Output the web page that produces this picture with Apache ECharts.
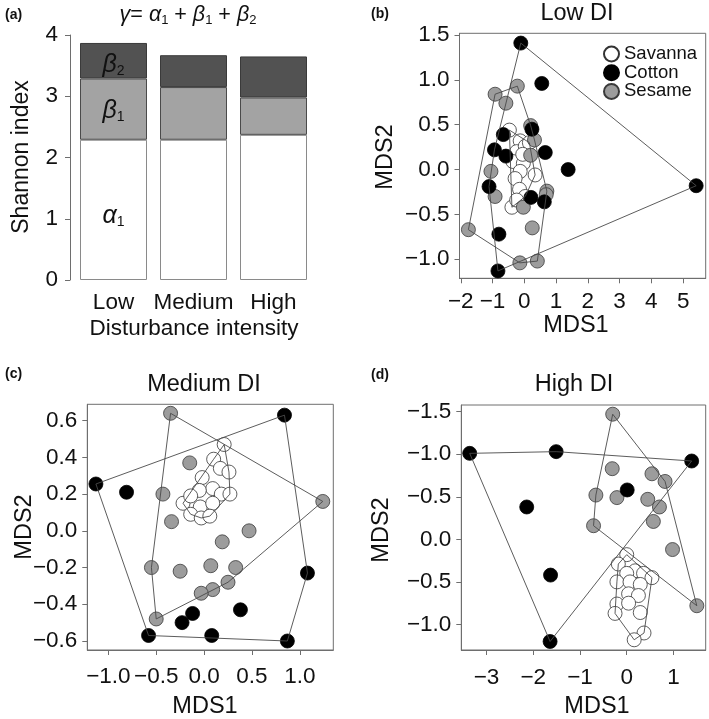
<!DOCTYPE html>
<html><head><meta charset="utf-8">
<script src="https://cdn.jsdelivr.net/npm/echarts@6/dist/echarts.min.js"></script>
<style>html,body{margin:0;padding:0;background:#fff}#c{width:709px;height:719px}</style>
</head><body><div id="c"></div>
<script>
// ---------- DATA ----------
const categories = ['Low', 'Medium', 'High'];
const alpha1 = [2.29, 2.29, 2.37];
const beta1 = [1.00, 0.86, 0.61];
const beta2 = [0.58, 0.52, 0.67];
const aTicks = [0, 1, 2, 3, 4];

// (b) Low DI
const lowSavanna = [[-0.47,0.44],[-0.13,0.32],[-0.24,0.20],[0.03,0.26],[0.16,0.30],[-0.36,0.09],[-0.03,0.07],[-0.13,-0.02],[0.34,-0.06],[-0.29,-0.10],[-0.15,-0.22],[0.03,-0.30],[-0.39,-0.42],[-0.24,-0.34],[-0.05,0.17]];
const lowCotton = [[-0.11,1.41],[0.55,0.96],[5.41,-0.18],[1.38,0.00],[0.66,0.19],[0.24,0.45],[-0.66,0.39],[-0.94,0.22],[-0.58,0.15],[-1.11,-0.19],[0.21,-0.31],[0.63,-0.36],[-0.80,-0.72],[-0.83,-1.13]];
const lowSesame = [[-0.92,0.84],[-0.22,0.93],[-0.58,0.74],[0.20,0.49],[0.32,0.33],[0.20,0.16],[-1.05,-0.02],[-0.92,-0.30],[0.71,-0.24],[0.69,-0.28],[-0.03,-0.42],[0.25,-0.65],[-1.76,-0.67],[-0.14,-1.04],[0.41,-1.02]];
const bTickX = [-2,-1,0,1,2,3,4,5];
const bTickXLabels = ['−2','−1','0','1','2','3','4','5'];
const bTickY = [-1.0,-0.5,0.0,0.5,1.0,1.5];
const bTickYLabels = ['−1.0','−0.5','0.0','0.5','1.0','1.5'];
const legendNames = ['Savanna', 'Cotton', 'Sesame'];

// (c) Medium DI
const medSavanna = [[0.21,0.47],[0.10,0.39],[0.17,0.34],[0.26,0.32],[-0.02,0.29],[0.09,0.23],[-0.05,0.22],[0.18,0.20],[0.27,0.20],[-0.22,0.15],[-0.14,0.19],[-0.04,0.13],[0.09,0.15],[-0.14,0.09],[-0.03,0.07],[0.06,0.08]];
const medCotton = [[-1.13,0.255],[-0.81,0.21],[0.84,0.63],[1.08,-0.23],[-0.58,-0.57],[-0.23,-0.50],[-0.12,-0.45],[0.38,-0.43],[0.08,-0.57],[0.87,-0.60]];
const medSesame = [[-0.35,0.64],[-0.15,0.37],[-0.43,0.20],[-0.34,0.05],[1.24,0.16],[0.47,0.00],[0.19,-0.06],[-0.55,-0.20],[-0.25,-0.22],[0.07,-0.19],[0.33,-0.20],[0.25,-0.28],[0.09,-0.32],[-0.03,-0.34],[-0.50,-0.48]];
const cTickX = [-1.0,-0.5,0.0,0.5,1.0];
const cTickXLabels = ['−1.0','−0.5','0.0','0.5','1.0'];
const cTickY = [-0.6,-0.4,-0.2,0.0,0.2,0.4,0.6];
const cTickYLabels = ['−0.6','−0.4','−0.2','0.0','0.2','0.4','0.6'];

// (d) High DI (vertical axis drawn reversed)
const highSavanna = [[0.00,0.18],[-0.18,0.29],[0.18,0.37],[0.36,0.40],[0.54,0.45],[0.00,0.40],[-0.21,0.50],[0.07,0.50],[0.29,0.53],[0.04,0.64],[0.25,0.66],[-0.21,0.76],[0.04,0.75],[-0.25,0.87],[0.29,0.86],[0.37,1.10],[0.16,1.18]];
const highCotton = [[-3.36,-1.01],[-1.51,-1.03],[1.39,-0.92],[0.01,-0.58],[-2.14,-0.38],[-1.63,0.42],[-1.64,1.20]];
const highSesame = [[-0.30,-1.47],[-0.31,-0.83],[0.54,-0.77],[0.82,-0.68],[-0.66,-0.52],[-0.21,-0.49],[0.45,-0.47],[0.70,-0.38],[0.57,-0.21],[-0.71,-0.16],[0.98,0.12],[1.50,0.78]];
const dTickX = [-3,-2,-1,0,1];
const dTickXLabels = ['−3','−2','−1','0','1'];
const dTickY = [-1.5,-1.0,-0.5,0.0,0.5,1.0];
const dTickYLabels = ['−1.5','−1.0','−0.5','0.0','−0.5','−1.0'];

// ---------- HELPERS ----------
function hull(pts) {
  const p = pts.slice().sort((a,b)=>a[0]-b[0]||a[1]-b[1]);
  const cross=(o,a,b)=>(a[0]-o[0])*(b[1]-o[1])-(a[1]-o[1])*(b[0]-o[0]);
  const lower=[];for(const q of p){while(lower.length>=2&&cross(lower[lower.length-2],lower[lower.length-1],q)<=0)lower.pop();lower.push(q);}
  const upper=[];for(let i=p.length-1;i>=0;i--){const q=p[i];while(upper.length>=2&&cross(upper[upper.length-2],upper[upper.length-1],q)<=0)upper.pop();upper.push(q);}
  upper.pop();lower.pop();
  const h=lower.concat(upper);h.push(h[0]);return h;
}
function labeler(vals, labs){return v=>{for(let i=0;i<vals.length;i++){if(Math.abs(vals[i]-v)<1e-6)return labs[i];}return '';};}

const FONT = "'Liberation Sans', Arial, sans-serif";
const AXC = '#6e6e6e';
const TXT = '#111111';
const SYM = 14;
const TF = 22.5;

function valAxis(gi, min, max, ticks, labs, margin, extra) {
  return Object.assign({
    type: 'value', gridIndex: gi, min: min, max: max,
    splitLine: {show: false},
    axisLine: {show: true, onZero: false, lineStyle: {color: AXC, width: 1}},
    axisTick: {show: true, inside: false, length: 5, lineStyle: {color: AXC}, customValues: ticks},
    axisLabel: {show: true, customValues: ticks, formatter: labeler(ticks, labs), fontSize: TF, fontFamily: FONT, color: TXT, margin: margin}
  }, extra || {});
}

const savStyle = {color: '#ffffff', borderColor: '#333', borderWidth: 0.8, opacity: 1};
const cotStyle = {color: '#000000', borderColor: '#000', borderWidth: 0.8, opacity: 1};
const sesStyle = {color: '#9c9c9c', borderColor: '#3a3a3a', borderWidth: 0.8, opacity: 1};

function scatterSet(gi, sav, cot, ses) {
  const s = [];
  s.push({name: 'Savanna', type: 'scatter', xAxisIndex: gi, yAxisIndex: gi, data: sav, symbol: 'circle', symbolSize: SYM, itemStyle: savStyle, z: 2, emphasis: {disabled: true}});
  s.push({name: 'Sesame', type: 'scatter', xAxisIndex: gi, yAxisIndex: gi, data: ses, symbol: 'circle', symbolSize: SYM, itemStyle: sesStyle, z: 2, emphasis: {disabled: true}});
  s.push({name: 'Cotton', type: 'scatter', xAxisIndex: gi, yAxisIndex: gi, data: cot, symbol: 'circle', symbolSize: SYM, itemStyle: cotStyle, z: 2, emphasis: {disabled: true}});
  [sav, cot, ses].forEach(g => {
    s.push({type: 'line', xAxisIndex: gi, yAxisIndex: gi, data: hull(g), showSymbol: false, symbol: 'none', lineStyle: {color: '#4a4a4a', width: 0.9}, z: 4, silent: true, animation: false});
  });
  return s;
}

const chart = echarts.init(document.getElementById('c'), null, {renderer: 'canvas'});

const barLabel = (txt, sub, dy) => ({
  show: true, position: 'inside', offset: [0, dy], formatter: '{i|' + txt + '}{s|' + sub + '}',
  rich: {i: {fontSize: 25, fontStyle: 'italic', fontFamily: FONT, color: TXT, lineHeight: 26},
         s: {fontSize: 14, fontFamily: FONT, color: TXT, lineHeight: 9, verticalAlign: 'bottom'}}
});

function barData(vals, lab) {
  return vals.map((v, i) => i === 0 ? {value: v, label: lab} : v);
}

const legends = legendNames.map((n, i) => ({
  show: true, orient: 'vertical', left: 598, top: 39.5 + i * 18.7, itemWidth: 15, itemHeight: 15,
  icon: 'circle', data: [n], selectedMode: false,
  textStyle: {fontSize: 18.5, fontFamily: FONT, color: TXT}
}));

const option = {
  animation: false,
  backgroundColor: '#ffffff',
  textStyle: {fontFamily: FONT},
  grid: [
    {left: 73.5, top: 35, width: 240, height: 245},
    {left: 459.5, top: 33.3, width: 246.2, height: 245, show: true, borderColor: AXC, borderWidth: 1, backgroundColor: 'transparent'},
    {left: 87.3, top: 404.3, width: 246, height: 245.7, show: true, borderColor: AXC, borderWidth: 1, backgroundColor: 'transparent'},
    {left: 461.3, top: 405, width: 244.4, height: 245, show: true, borderColor: AXC, borderWidth: 1, backgroundColor: 'transparent'}
  ],
  xAxis: [
    {type: 'category', gridIndex: 0, data: categories, axisLine: {show: false}, axisTick: {show: false},
     axisLabel: {interval: 0, fontSize: 22.5, fontFamily: FONT, color: TXT, margin: 11}},
    valAxis(1, -2.04, 5.71, bTickX, bTickXLabels, 12),
    valAxis(2, -1.22, 1.35, cTickX, cTickXLabels, 15),
    valAxis(3, -3.54, 1.69, dTickX, dTickXLabels, 16)
  ],
  yAxis: [
    {type: 'value', gridIndex: 0, min: 0, max: 4, interval: 1, offset: 3.5, splitLine: {show: false},
     axisLine: {show: true, onZero: false, lineStyle: {color: AXC}}, axisTick: {show: true, length: 5, lineStyle: {color: AXC}},
     axisLabel: {fontSize: TF, fontFamily: FONT, color: TXT, margin: 12}},
    valAxis(1, -1.212, 1.519, bTickY, bTickYLabels, 10),
    valAxis(2, -0.649, 0.689, cTickY, cTickYLabels, 10),
    valAxis(3, -1.578, 1.30, dTickY, dTickYLabels, 10, {inverse: true})
  ],
  legend: legends,
  series: [
    {name: 'alpha', type: 'bar', stack: 'g', xAxisIndex: 0, yAxisIndex: 0, barWidth: 67,
     data: barData(alpha1, barLabel('α', '1', 6)), itemStyle: {color: '#ffffff', borderColor: '#8a8a8a', borderWidth: 1}},
    {name: 'beta1', type: 'bar', stack: 'g', xAxisIndex: 0, yAxisIndex: 0, barWidth: 67,
     data: barData(beta1, barLabel('β', '1', 2)), itemStyle: {color: '#a3a3a3', borderColor: '#4a4a4a', borderWidth: 1}},
    {name: 'beta2', type: 'bar', stack: 'g', xAxisIndex: 0, yAxisIndex: 0, barWidth: 67,
     data: barData(beta2, barLabel('β', '2', 4)), itemStyle: {color: '#525252', borderColor: '#3a3a3a', borderWidth: 1}}
  ].concat(scatterSet(1, lowSavanna, lowCotton, lowSesame))
   .concat(scatterSet(2, medSavanna, medCotton, medSesame))
   .concat(scatterSet(3, highSavanna, highCotton, highSesame)),
  graphic: [
    {type: 'text', x: 5, y: 15, style: {text: '(a)', font: 'bold 14px ' + FONT, fill: TXT, verticalAlign: 'middle'}},
    {type: 'text', x: 371, y: 14, style: {text: '(b)', font: 'bold 14px ' + FONT, fill: TXT, verticalAlign: 'middle'}},
    {type: 'text', x: 5, y: 374, style: {text: '(c)', font: 'bold 14px ' + FONT, fill: TXT, verticalAlign: 'middle'}},
    {type: 'text', x: 371, y: 375, style: {text: '(d)', font: 'bold 14px ' + FONT, fill: TXT, verticalAlign: 'middle'}},
    {type: 'text', x: 188, y: 15, style: {
      text: '{i|γ}{n|= }{i|α}{s|1}{n| + }{i|β}{s|1}{n| + }{i|β}{s|2}', align: 'center', verticalAlign: 'middle',
      rich: {i: {fontSize: 21.5, fontStyle: 'italic', fontFamily: FONT, fill: TXT, lineHeight: 24},
             n: {fontSize: 21.5, fontFamily: FONT, fill: TXT, lineHeight: 24},
             s: {fontSize: 13, fontFamily: FONT, fill: TXT, lineHeight: 9, verticalAlign: 'bottom'}}}},
    {type: 'text', x: 22, y: 157, rotation: Math.PI / 2, style: {text: 'Shannon index', font: '23px ' + FONT, fill: TXT, align: 'center', verticalAlign: 'middle'}},
    {type: 'text', x: 194, y: 329, style: {text: 'Disturbance intensity', font: '22.5px ' + FONT, fill: TXT, align: 'center', verticalAlign: 'middle'}},
    {type: 'text', x: 577, y: 14, style: {text: 'Low DI', font: '23.5px ' + FONT, fill: TXT, align: 'center', verticalAlign: 'middle'}},
    {type: 'text', x: 576, y: 326, style: {text: 'MDS1', font: '23.5px ' + FONT, fill: TXT, align: 'center', verticalAlign: 'middle'}},
    {type: 'text', x: 386, y: 157, rotation: Math.PI / 2, style: {text: 'MDS2', font: '23.5px ' + FONT, fill: TXT, align: 'center', verticalAlign: 'middle'}},
    {type: 'text', x: 204, y: 385, style: {text: 'Medium DI', font: '23.5px ' + FONT, fill: TXT, align: 'center', verticalAlign: 'middle'}},
    {type: 'text', x: 205, y: 707, style: {text: 'MDS1', font: '23.5px ' + FONT, fill: TXT, align: 'center', verticalAlign: 'middle'}},
    {type: 'text', x: 25, y: 527, rotation: Math.PI / 2, style: {text: 'MDS2', font: '23.5px ' + FONT, fill: TXT, align: 'center', verticalAlign: 'middle'}},
    {type: 'text', x: 574, y: 385, style: {text: 'High DI', font: '23.5px ' + FONT, fill: TXT, align: 'center', verticalAlign: 'middle'}},
    {type: 'text', x: 597, y: 707, style: {text: 'MDS1', font: '23.5px ' + FONT, fill: TXT, align: 'center', verticalAlign: 'middle'}},
    {type: 'text', x: 382, y: 530, rotation: Math.PI / 2, style: {text: 'MDS2', font: '23.5px ' + FONT, fill: TXT, align: 'center', verticalAlign: 'middle'}}
  ]
};
chart.setOption(option);
</script></body></html>
